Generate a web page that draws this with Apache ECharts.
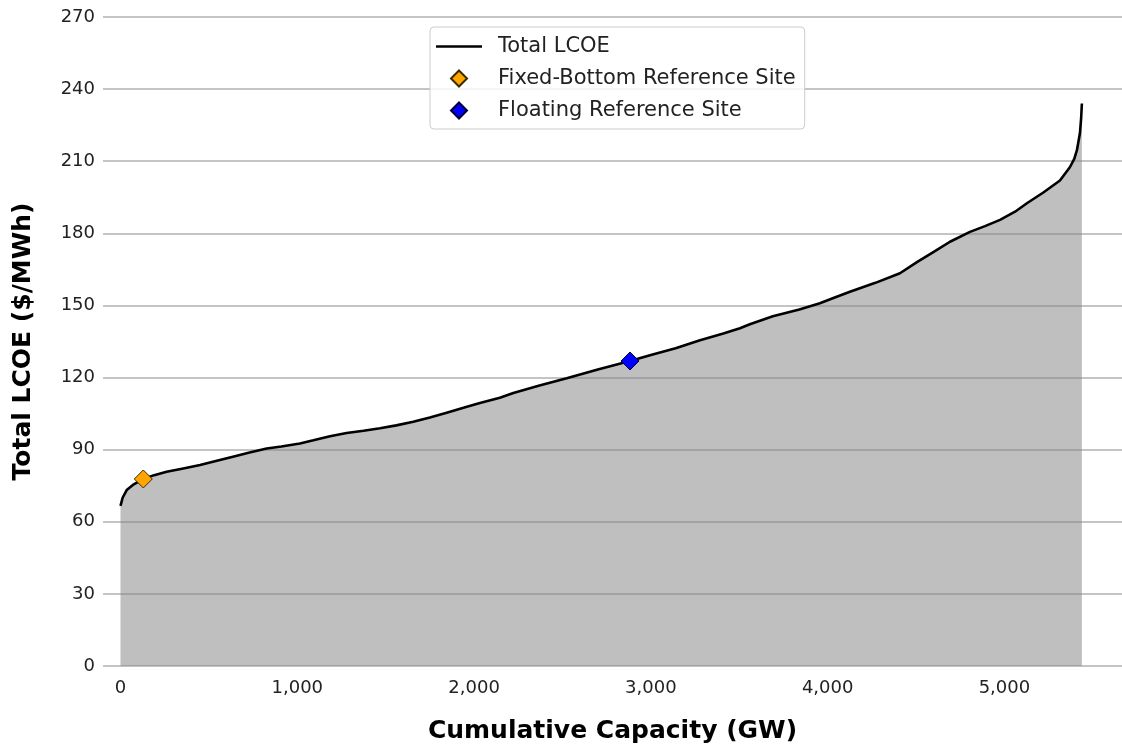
<!DOCTYPE html>
<html>
<head>
<meta charset="utf-8">
<script src="https://cdn.jsdelivr.net/npm/echarts@6.0.0/dist/echarts.min.js"></script>
<style>
html,body{margin:0;padding:0;background:#fff;}
#chart{width:1122px;height:746px;}
</style>
</head>
<body>
<div id="chart"></div>
<script>
// Cumulative capacity (GW) and total LCOE ($/MWh)
const capacityGW = [0,12,35,75,129,190,261,355,450,545,636,730,827,910,1015,1091,1185,1279,1375,1468,1560,1656,1750,1845,1940,2033,2146,2222,2370,2524,2700,2882,3000,3140,3278,3410,3504,3560,3690,3840,3956,4040,4126,4270,4409,4505,4600,4692,4805,4890,4975,5060,5127,5220,5314,5370,5395,5410,5427,5434,5438];
const lcoe = [66.6,70.0,73.2,75.6,77.8,79.4,80.8,82.2,83.6,85.4,87.1,88.8,90.5,91.3,92.6,93.9,95.6,96.9,97.9,98.9,100.1,101.6,103.4,105.4,107.4,109.4,111.6,113.6,116.7,119.7,123.4,126.9,129.4,132.2,135.5,138.3,140.5,142.2,145.5,148.3,150.9,153.3,155.7,159.4,163.4,168.0,172.3,176.5,180.6,183.0,185.6,189.0,192.5,197.0,202.0,207.5,211.0,214.6,221.6,228.0,234.0];
const fixedBottomSite = [129, 77.8];
const floatingSite = [2882, 126.9];
const xTickValues = [0,1000,2000,3000,4000,5000];
const yTicks = [0,30,60,90,120,150,180,210,240,270];

const curve = capacityGW.map((x, i) => [x, lcoe[i]]);
const FONT = 'DejaVu Sans';
// legend diamond drawn inside a padded 46x18 box so it keeps its shape
const DIAMOND_ICON = 'path://M0,0 M46,18 M23,1 L31,9 L23,17 L15,9 Z';

const chart = echarts.init(document.getElementById('chart'), null, {renderer: 'canvas'});
chart.setOption({
  backgroundColor: '#ffffff',
  animation: false,
  textStyle: {fontFamily: FONT},
  grid: {left: 103, right: 0, top: 17, bottom: 80, containLabel: false, outerBoundsMode: 'none'},
  legend: {
    orient: 'vertical',
    left: 430, top: 27,
    padding: [9, 9, 8, 5],
    itemWidth: 46, itemHeight: 18, itemGap: 11,
    backgroundColor: 'rgba(255,255,255,0.85)',
    borderColor: '#cccccc', borderWidth: 1, borderRadius: 4,
    textStyle: {fontFamily: FONT, fontSize: 21, color: '#222', padding: [0,0,0,11]},
    data: [
      {name: 'Total LCOE', icon: 'path://M0,0 L46,0 L46,2.4 L0,2.4 Z'},
      {name: 'Fixed-Bottom Reference Site', icon: DIAMOND_ICON},
      {name: 'Floating Reference Site', icon: DIAMOND_ICON}
    ]
  },
  xAxis: {
    type: 'value',
    min: -99, max: 5665,
    name: 'Cumulative Capacity (GW)',
    nameLocation: 'middle',
    nameGap: 53,
    nameTextStyle: {fontFamily: FONT, fontSize: 25, fontWeight: 'bold', color: '#000'},
    axisLine: {show: false},
    axisTick: {show: false},
    splitLine: {show: false},
    axisLabel: {
      customValues: xTickValues,
      margin: 13,
      fontFamily: FONT, fontSize: 18, color: '#222',
      formatter: v => Number(v).toLocaleString('en-US')
    }
  },
  yAxis: {
    type: 'value',
    min: 0, max: 270, interval: 30,
    name: 'Total LCOE ($/MWh)',
    nameLocation: 'middle',
    nameGap: 67,
    nameRotate: 90,
    nameTextStyle: {fontFamily: FONT, fontSize: 25, fontWeight: 'bold', color: '#000'},
    axisLine: {show: false},
    axisTick: {show: false},
    axisLabel: {margin: 8, fontFamily: FONT, fontSize: 18, color: '#222'},
    splitLine: {show: true, lineStyle: {color: '#b0b0b0', width: 1.6}}
  },
  series: [
    {
      name: 'Total LCOE',
      type: 'line',
      data: curve,
      showSymbol: false,
      symbol: 'none',
      smooth: false,
      lineStyle: {color: '#000', width: 2.6},
      itemStyle: {color: '#000'},
      areaStyle: {color: 'rgba(128,128,128,0.5)', opacity: 1, origin: 'start'},
      z: 2
    },
    {
      name: 'Fixed-Bottom Reference Site',
      type: 'scatter',
      data: [fixedBottomSite],
      symbol: 'diamond',
      symbolSize: 18,
      itemStyle: {color: '#ffa500', borderColor: '#3a2a00', borderWidth: 1, opacity: 1},
      z: 5
    },
    {
      name: 'Floating Reference Site',
      type: 'scatter',
      data: [floatingSite],
      symbol: 'diamond',
      symbolSize: 18,
      itemStyle: {color: '#0000ff', borderColor: '#000033', borderWidth: 1, opacity: 1},
      z: 5
    }
  ]
});
</script>
</body>
</html>
